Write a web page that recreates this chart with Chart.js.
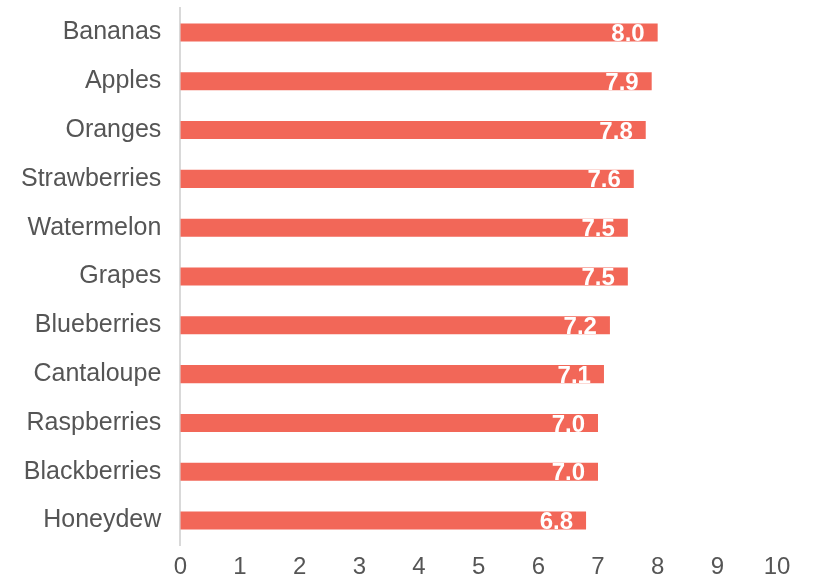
<!DOCTYPE html>
<html>
<head>
<meta charset="utf-8">
<script src="https://cdn.jsdelivr.net/npm/chart.js@4/dist/chart.umd.min.js"></script>
<style>
  html, body { margin: 0; padding: 0; background: #fff; }
  #wrap { width: 815px; height: 584px; }
</style>
</head>
<body>
<div id="wrap"><canvas id="chart" width="815" height="584"></canvas></div>
<script>
// Fruit ratings, top to bottom as drawn
var fruits = ['Bananas', 'Apples', 'Oranges', 'Strawberries', 'Watermelon', 'Grapes',
              'Blueberries', 'Cantaloupe', 'Raspberries', 'Blackberries', 'Honeydew'];
var scores = [8.0, 7.9, 7.8, 7.6, 7.5, 7.5, 7.2, 7.1, 7.0, 7.0, 6.8];
var xTicks = [0, 1, 2, 3, 4, 5, 6, 7, 8, 9, 10];

var BAR_COLOR = '#F26758';
var TEXT_COLOR = '#555555';
var FONT = '"Liberation Sans", Arial, Helvetica, sans-serif';

/**
 * Draw white value labels inside the end of each bar.
 */
var valueLabels = {
    id: 'valueLabels',
    afterDatasetsDraw: function (chart) {
        var ctx = chart.ctx;
        var meta = chart.getDatasetMeta(0);
        ctx.save();
        ctx.fillStyle = '#ffffff';
        ctx.font = 'bold 24px ' + FONT;
        ctx.textAlign = 'right';
        ctx.textBaseline = 'middle';
        meta.data.forEach(function (bar, i) {
            ctx.fillText(scores[i].toFixed(1), bar.x - 13, bar.y + 2);
        });
        ctx.restore();
    },
};

new Chart(document.getElementById('chart'), {
    type: 'bar',
    data: {
        labels: fruits,
        datasets: [{
            data: scores,
            backgroundColor: BAR_COLOR,
            borderWidth: 0,
            barPercentage: 0.37,
            categoryPercentage: 1.0,
        }],
    },
    options: {
        indexAxis: 'y',
        responsive: false,
        animation: false,
        layout: { padding: { top: 8, right: 38, bottom: 4, left: 2 } },
        plugins: {
            legend: { display: false },
            tooltip: { enabled: false },
        },
        scales: {
            x: {
                min: 0,
                max: 10,
                afterBuildTicks: function (axis) {
                    axis.ticks = xTicks.map(function (v) { return { value: v }; });
                },
                afterFit: function (axis) {
                    axis.height = 35;
                },
                grid: { display: false, drawTicks: false },
                border: { display: false },
                ticks: {
                    color: TEXT_COLOR,
                    font: { family: FONT, size: 24 },
                    padding: 8,
                    maxRotation: 0,
                },
            },
            y: {
                // no extra room above/below for the first and last label
                afterFit: function (axis) {
                    axis.paddingTop = 0;
                    axis.paddingBottom = 0;
                },
                grid: { display: false, drawTicks: false },
                border: { display: true, color: '#d9d9d9', width: 2 },
                ticks: {
                    color: TEXT_COLOR,
                    font: { family: FONT, size: 25 },
                    padding: 19,
                },
            },
        },
    },
    plugins: [valueLabels],
});
</script>
</body>
</html>
